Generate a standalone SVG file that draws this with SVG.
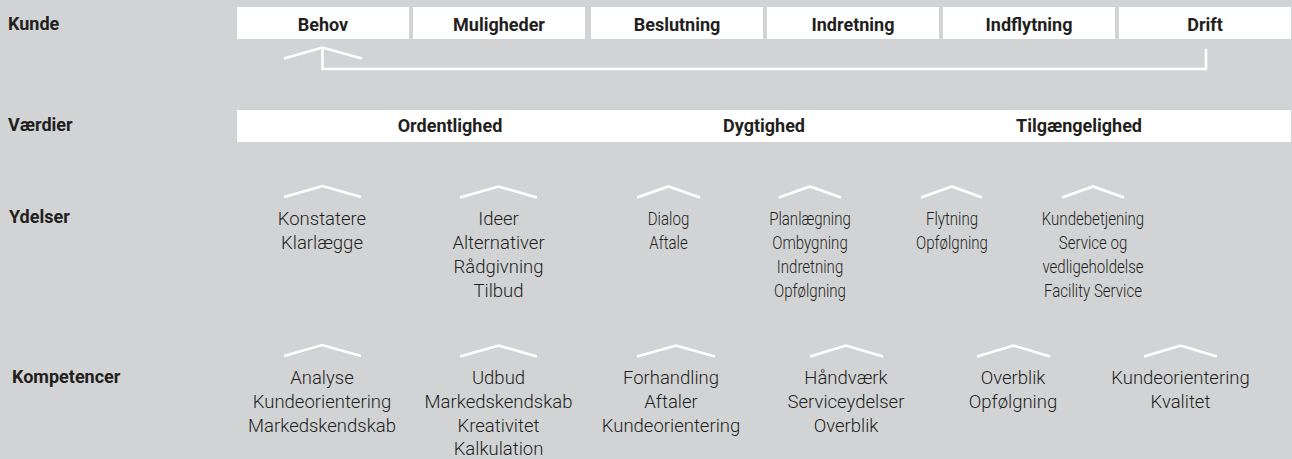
<svg xmlns="http://www.w3.org/2000/svg" width="1292" height="459" viewBox="0 0 1292 459">
  <style>
    .bg { fill: #d2d3d5; }
    .box { fill: #ffffff; }
    .hd { font-family: Roboto, "Liberation Sans", sans-serif; font-weight: 700; font-size: 18px; fill: #231f20; }
    .hdc { text-anchor: middle; }
    .it { font-family: Roboto, "Liberation Sans", sans-serif; font-weight: 300; font-size: 18.5px; fill: #231f20; text-anchor: middle; }
    .sm { font-size: 17.5px; }
    .chev { fill: none; stroke: #ffffff; stroke-width: 2.6; stroke-linejoin: miter; }
    .link { fill: none; stroke: #ffffff; stroke-width: 2.6; }
  </style>

  <rect class="bg" x="0" y="0" width="1292" height="459"/>

  <!-- row labels -->
  <g id="row-labels">
    <text class="hd" x="8" y="30">Kunde</text>
    <text class="hd" x="8" y="131">Værdier</text>
    <text class="hd" x="9" y="223">Ydelser</text>
    <text class="hd" x="12" y="383">Kompetencer</text>
  </g>

  <!-- customer phases -->
  <g id="phase-behov">
    <rect class="box" x="237" y="7" width="172" height="32"/>
    <text class="hd hdc" x="323" y="31">Behov</text>
  </g>
  <g id="phase-muligheder">
    <rect class="box" x="413" y="7" width="172" height="32"/>
    <text class="hd hdc" x="499" y="31">Muligheder</text>
  </g>
  <g id="phase-beslutning">
    <rect class="box" x="591" y="7" width="172" height="32"/>
    <text class="hd hdc" x="677" y="31">Beslutning</text>
  </g>
  <g id="phase-indretning">
    <rect class="box" x="767" y="7" width="172" height="32"/>
    <text class="hd hdc" x="853" y="31">Indretning</text>
  </g>
  <g id="phase-indflytning">
    <rect class="box" x="943" y="7" width="172" height="32"/>
    <text class="hd hdc" x="1029" y="31">Indflytning</text>
  </g>
  <g id="phase-drift">
    <rect class="box" x="1119" y="7" width="172" height="32"/>
    <text class="hd hdc" x="1205" y="31">Drift</text>
  </g>

  <!-- values bar -->
  <g id="values">
    <rect class="box" x="237" y="110" width="1054" height="32"/>
    <text class="hd hdc" x="450" y="132">Ordentlighed</text>
    <text class="hd hdc" x="764" y="132">Dygtighed</text>
    <text class="hd hdc" x="1079" y="132">Tilgængelighed</text>
  </g>

  <!-- connectors: feedback loop Drift back to Behov, and caret markers -->
  <g id="connectors">
    <path class="link" d="M1206,49 V69 H322.5 V48"/>
    <polyline class="chev" points="284,58.5 322.5,47.5 362,58.5"/>

    <polyline class="chev" points="284,197 322.5,186 361,197"/>
    <polyline class="chev" points="460,197.5 498.5,186.5 537,197.5"/>
    <polyline class="chev" points="637,197.5 668.5,186.5 700,197.5"/>
    <polyline class="chev" points="779,197.5 810,186.5 841,197.5"/>
    <polyline class="chev" points="921,197.5 952,186.5 982,197.5"/>
    <polyline class="chev" points="1062,197.5 1093,186.5 1124,197.5"/>

    <polyline class="chev" points="284,356 322,345 361,356"/>
    <polyline class="chev" points="460,356.5 498.5,345.5 537,356.5"/>
    <polyline class="chev" points="637,356.5 676,345.5 715,356.5"/>
    <polyline class="chev" points="810,356.5 846,345.5 883,356.5"/>
    <polyline class="chev" points="977,356.5 1013.5,345.5 1050,356.5"/>
    <polyline class="chev" points="1144,356.5 1180.5,345.5 1217,356.5"/>
  </g>

  <!-- services -->
  <g id="ydelser-behov">
    <text class="it" x="322" y="225">Konstatere</text>
    <text class="it" x="322" y="249">Klarlægge</text>
  </g>
  <g id="ydelser-muligheder">
    <text class="it" x="498.5" y="225">Ideer</text>
    <text class="it" x="498.5" y="249">Alternativer</text>
    <text class="it" x="498.5" y="273">Rådgivning</text>
    <text class="it" x="498.5" y="297">Tilbud</text>
  </g>
  <g id="ydelser-beslutning" transform="translate(668.5 0) scale(0.86 1)">
    <text class="it sm" x="0" y="225">Dialog</text>
    <text class="it sm" x="0" y="249">Aftale</text>
  </g>
  <g id="ydelser-indretning" transform="translate(810 0) scale(0.86 1)">
    <text class="it sm" x="0" y="225">Planlægning</text>
    <text class="it sm" x="0" y="249">Ombygning</text>
    <text class="it sm" x="0" y="273">Indretning</text>
    <text class="it sm" x="0" y="297">Opfølgning</text>
  </g>
  <g id="ydelser-indflytning" transform="translate(952 0) scale(0.86 1)">
    <text class="it sm" x="0" y="225">Flytning</text>
    <text class="it sm" x="0" y="249">Opfølgning</text>
  </g>
  <g id="ydelser-drift" transform="translate(1093 0) scale(0.86 1)">
    <text class="it sm" x="0" y="225">Kundebetjening</text>
    <text class="it sm" x="0" y="249">Service og</text>
    <text class="it sm" x="0" y="273">vedligeholdelse</text>
    <text class="it sm" x="0" y="297">Facility Service</text>
  </g>

  <!-- competences -->
  <g id="kompetencer-behov">
    <text class="it" x="322" y="384">Analyse</text>
    <text class="it" x="322" y="408">Kundeorientering</text>
    <text class="it" x="322" y="431.5">Markedskendskab</text>
  </g>
  <g id="kompetencer-muligheder">
    <text class="it" x="498.5" y="384">Udbud</text>
    <text class="it" x="498.5" y="408">Markedskendskab</text>
    <text class="it" x="498.5" y="431.5">Kreativitet</text>
    <text class="it" x="498.5" y="455">Kalkulation</text>
  </g>
  <g id="kompetencer-beslutning">
    <text class="it" x="671" y="384">Forhandling</text>
    <text class="it" x="671" y="408">Aftaler</text>
    <text class="it" x="671" y="431.5">Kundeorientering</text>
  </g>
  <g id="kompetencer-indretning">
    <text class="it" x="846" y="384">Håndværk</text>
    <text class="it" x="846" y="408">Serviceydelser</text>
    <text class="it" x="846" y="431.5">Overblik</text>
  </g>
  <g id="kompetencer-indflytning">
    <text class="it" x="1013" y="384">Overblik</text>
    <text class="it" x="1013" y="408">Opfølgning</text>
  </g>
  <g id="kompetencer-drift">
    <text class="it" x="1180.5" y="384">Kundeorientering</text>
    <text class="it" x="1180.5" y="408">Kvalitet</text>
  </g>
</svg>
